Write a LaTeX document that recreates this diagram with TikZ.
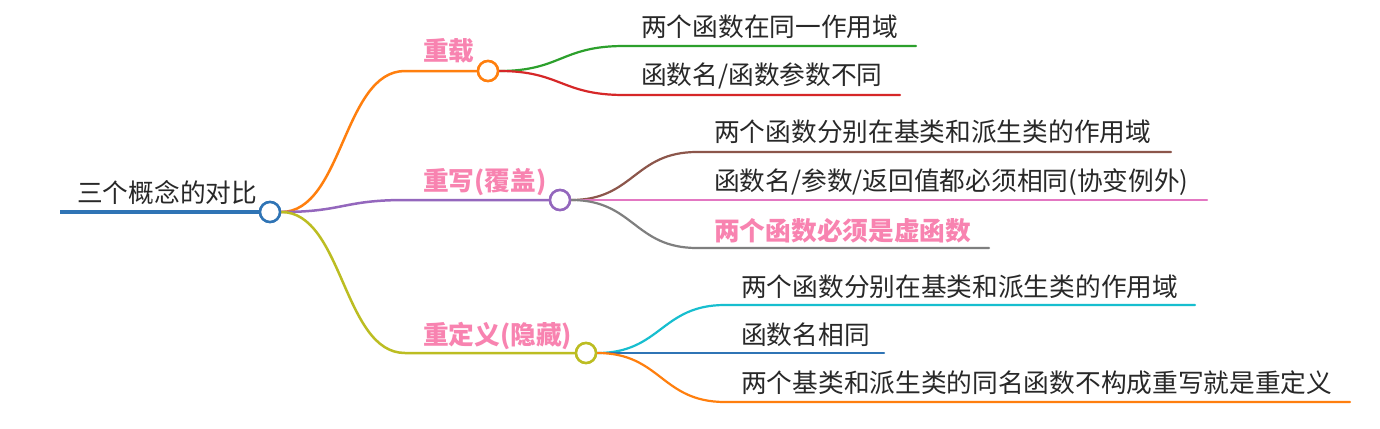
\documentclass[tikz,border=0pt]{standalone}
\usepackage{fontspec}
\setmainfont{Noto Sans CJK SC}
\definecolor{cblue}{HTML}{2F74B5}
\definecolor{corange}{HTML}{FF7F0E}
\definecolor{cgreen}{HTML}{2CA02C}
\definecolor{cred}{HTML}{D62728}
\definecolor{cpurple}{HTML}{9467BD}
\definecolor{cbrown}{HTML}{8C564B}
\definecolor{cpink}{HTML}{E377C2}
\definecolor{cgray}{HTML}{7F7F7F}
\definecolor{colive}{HTML}{BCBD22}
\definecolor{ccyan}{HTML}{17BECF}
\definecolor{pinklbl}{RGB}{248,131,176}
\definecolor{txtgray}{RGB}{40,40,40}
\begin{document}
\begin{tikzpicture}[x=1pt,y=-1pt,
  txt/.style={anchor=base west, inner sep=0pt, font=\fontsize{25.7}{30}\selectfont, text=txtgray},
  lbl/.style={anchor=base west, inner sep=0pt, font=\fontsize{25.7}{30}\selectfont\bfseries, text=pinklbl},
  dot/.style={circle, draw, fill=white, minimum size=20pt, inner sep=0pt, line width=2.5pt},
  ln/.style={line width=2.5pt, line cap=round},
  leaf/.style={line width=2.2pt, line cap=round}]
\useasboundingbox[fill=white] (0,0) rectangle (1380,428);

% root
\node[txt] (t0) at (77,202) {三个概念的对比};
\coordinate (r0) at (60,212);
\node[dot, draw=cblue] (c0) at (270,212) {};
\draw[cblue, line width=3.5pt] (r0) -- (c0.west);

% first level
\coordinate (a1) at (405,71);
\coordinate (a2) at (405,200);
\coordinate (a3) at (405,353);
\node[dot, draw=corange] (c1) at (488,71) {};
\node[dot, draw=cpurple] (c2) at (560,200) {};
\node[dot, draw=colive] (c3) at (586,353) {};
\draw[ln, corange] (c0.east) .. controls (343,212) and (343,71) .. (a1) -- (c1.west);
\draw[ln, cpurple] (c0.east) .. controls (343,212) and (343,200) .. (a2) -- (c2.west);
\draw[ln, colive] (c0.east) .. controls (343,212) and (343,353) .. (a3) -- (c3.west);
\node[lbl] (l1) at (423,60) {重载};
\node[lbl] (l2) at (423,190) {重写(覆盖)};
\node[lbl] (l3) at (423,344) {重定义(隐藏)};

% children of 重载
\coordinate (g0) at (624,46);  \coordinate (g1) at (916,46);
\coordinate (h0) at (624,95);  \coordinate (h1) at (900,95);
\draw[leaf, cgreen] (c1.east) .. controls (561,71) and (561,46) .. (g0) -- (g1);
\draw[leaf, cred] (c1.east) .. controls (561,71) and (561,95) .. (h0) -- (h1);
\node[txt] (s11) at (641,37) {两个函数在同一作用域};
\node[txt] (s12) at (641,84) {函数名/函数参数不同};

% children of 重写
\coordinate (b0) at (697,152); \coordinate (b1) at (1171,152);
\coordinate (p1) at (1207,200);
\coordinate (q0) at (697,248); \coordinate (q1) at (989,248);
\draw[leaf, cbrown] (c2.east) .. controls (634,200) and (634,152) .. (b0) -- (b1);
\draw[leaf, cpink] (c2.east) -- (p1);
\draw[leaf, cgray] (c2.east) .. controls (634,200) and (634,248) .. (q0) -- (q1);
\node[txt] (s21) at (714,141) {两个函数分别在基类和派生类的作用域};
\node[txt] (s22) at (714,190) {函数名/参数/返回值都必须相同(协变例外)};
\node[lbl] (s23) at (714,240) {两个函数必须是虚函数};

% children of 重定义
\coordinate (k0) at (725,305); \coordinate (k1) at (1195,305);
\coordinate (m1) at (884,353);
\coordinate (o0) at (725,402); \coordinate (o1) at (1350,402);
\draw[leaf, ccyan] (c3.east) .. controls (661,353) and (661,305) .. (k0) -- (k1);
\draw[leaf, cblue] (c3.east) -- (m1);
\draw[leaf, corange] (c3.east) .. controls (661,353) and (661,402) .. (o0) -- (o1);
\node[txt] (s31) at (741,296) {两个函数分别在基类和派生类的作用域};
\node[txt] (s32) at (741,344) {函数名相同};
\node[txt] (s33) at (741,392) {两个基类和派生类的同名函数不构成重写就是重定义};

% redraw circles on top
\node[dot, draw=cblue] at (c0) {};
\node[dot, draw=corange] at (c1) {};
\node[dot, draw=cpurple] at (c2) {};
\node[dot, draw=colive] at (c3) {};
\end{tikzpicture}
\end{document}
